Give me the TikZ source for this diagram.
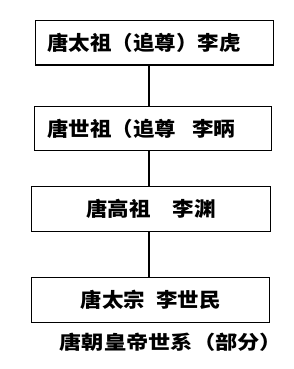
\documentclass[tikz,border=0pt]{standalone}
\usepackage{fontspec}
\newfontfamily\boxfont[FakeStretch=1.075]{Noto Sans CJK SC}
\newfontfamily\capfont[FakeStretch=1.17]{Noto Sans CJK SC}
\begin{document}
\begin{tikzpicture}[x=1pt,y=-1pt,
  box/.style={draw=black, line width=1.3pt, inner ysep=0pt, anchor=north west,
    font=\boxfont\bfseries\fontsize{20}{20}\selectfont},
  link/.style={draw=black, line width=1.8pt}]
\useasboundingbox (0,0) rectangle (293,369);
\node[box, text width=214pt, inner xsep=12pt, align=left, minimum height=44.3pt] (b1) at (34.5,20) {唐太祖（追尊）李虎};
\node[box, text width=211.2pt, inner xsep=13pt, align=left, minimum height=44.3pt] (b2) at (33.5,105.7) {唐世祖（追尊\hspace{0.8em}李昞};
\node[box, text width=228.5pt, inner xsep=5pt, align=center, minimum height=45pt] (b3) at (31,186) {唐高祖\hspace{1.1em}李渊};
\node[box, text width=228pt, inner xsep=5pt, align=center, minimum height=45pt] (b4) at (31,276.7) {唐太宗\hspace{0.55em}李世民};
\coordinate (cx) at (149,0);
\draw[link] (cx |- b1.south) -- (cx |- b2.north);
\draw[link] (cx |- b2.south) -- (cx |- b3.north);
\draw[link] (cx |- b3.south) -- (cx |- b4.north);
\node[font=\capfont\bfseries\fontsize{19}{19}\selectfont, anchor=west, inner sep=0pt] (cap) at (59.5,342) {唐朝皇帝世系（部分）};
\end{tikzpicture}
\end{document}
